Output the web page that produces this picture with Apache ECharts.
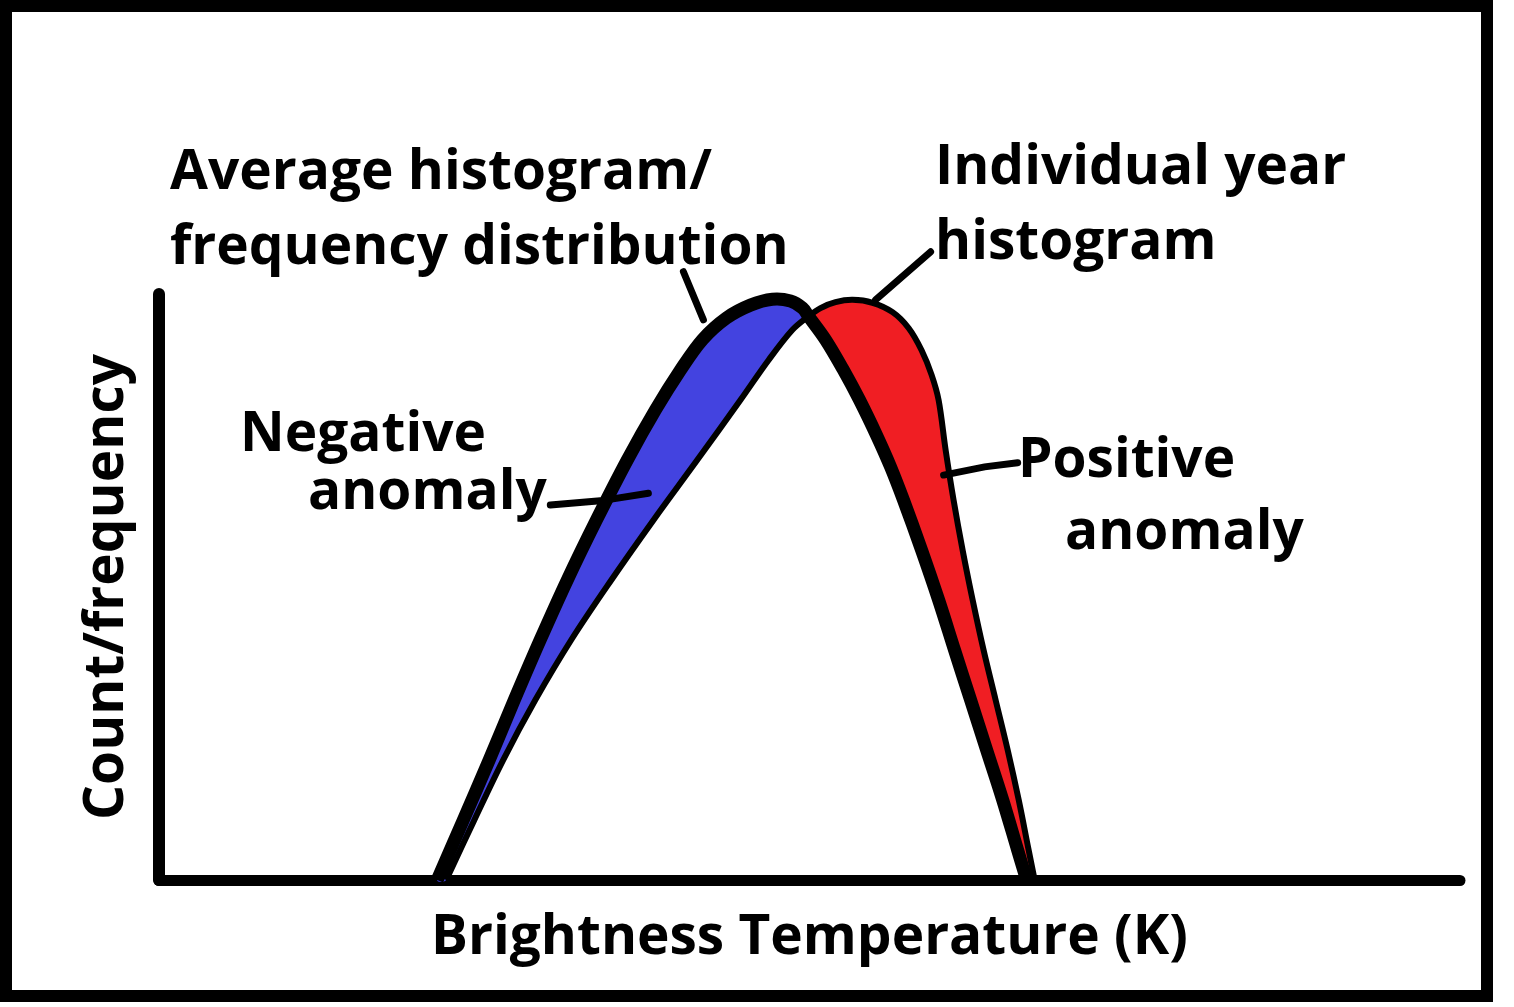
<!DOCTYPE html>
<html>
<head>
<meta charset="utf-8">
<script src="https://cdn.jsdelivr.net/npm/echarts@6/dist/echarts.min.js"></script>
<style>
  html, body { margin: 0; padding: 0; background: #fff; }
  #chart { width: 1514px; height: 1007px; }
</style>
</head>
<body>
<div id="chart"></div>
<script>
// average histogram (brightness temperature in arbitrary units, count 0-100)
const avgX = [27.8, 30.4, 33.0, 35.5, 38.1, 40.8, 43.7, 46.8, 49.6, 52.1, 54.3, 56.7, 59.1, 61.3, 63.1, 64.3, 64.9,
  66.6, 68.4, 70.0, 71.7, 73.1, 74.4, 76.2, 77.9, 79.5, 81.1, 82.7, 84.3, 85.8, 86.7]
const avgY = [0, 10.2, 20.5, 30.7, 41.0, 51.2, 61.4, 71.7, 80.2, 87.0, 92.2, 95.9, 98.1, 99.1, 98.8, 97.6, 96.2,
  92.2, 87.0, 81.9, 75.9, 70.5, 64.8, 56.3, 47.8, 39.2, 30.7, 22.2, 13.7, 5.1, 0]
const avgCross = 16

// individual year histogram
const indX = [28.7, 31.5, 34.4, 37.6, 41.2, 45.2, 49.4, 53.8, 58.1, 60.9, 63.3, 64.9,
  66.1, 67.6, 69.3, 71.3, 73.3, 74.9, 76.2, 77.2, 77.9, 78.6, 79.4, 80.3, 81.3, 82.4, 83.6, 84.8, 85.9, 86.9, 87.5]
const indY = [0, 10.2, 20.5, 30.7, 41.0, 51.2, 61.4, 71.7, 81.9, 88.7, 93.9, 96.2,
  97.6, 98.6, 99.0, 98.5, 96.9, 94.2, 90.4, 86.2, 81.9, 73.4, 64.8, 56.3, 47.8, 39.2, 30.7, 22.2, 13.7, 5.1, 0]
const indCross = 11

// annotation pointers [x, y] in the same units
const pointers = [
  [[52.4, 103.8], [54.4, 95.6]],
  [[77.1, 107.2], [71.6, 99.0]],
  [[39.1, 64.0], [44.1, 64.7], [48.9, 66.0]],
  [[78.4, 69.1], [82.5, 70.5], [85.8, 71.2]]
]

const labels = [
  {text: 'Average histogram/', x: 170, y: 173},
  {text: 'frequency distribution', x: 170, y: 248},
  {text: 'Individual year', x: 935, y: 168},
  {text: 'histogram', x: 935, y: 243},
  {text: 'Negative', x: 240, y: 435},
  {text: 'anomaly', x: 308, y: 493},
  {text: 'Positive', x: 1018, y: 461},
  {text: 'anomaly', x: 1065, y: 533}
]

const FONT_FAMILY = 'Open Sans'
const FONT = 'bold 55px "Open Sans"'
const SMOOTH = 0.35

const zip = (xs, ys) => xs.map((x, i) => [x, ys[i]])
const avgPts = zip(avgX, avgY)
const indPts = zip(indX, indY)
const bluePts = avgPts.slice(0, avgCross + 1).concat(indPts.slice(0, indCross).reverse())
const redPts = indPts.slice(indCross).concat(avgPts.slice(avgCross + 1, -1).reverse())

function renderAll (params, api) {
  const c = pts => pts.map(p => api.coord(p))
  const kids = [
    {type: 'polygon', shape: {points: c(bluePts), smooth: SMOOTH}, style: {fill: '#4343e0'}},
    {type: 'polygon', shape: {points: c(redPts), smooth: SMOOTH}, style: {fill: '#f01e23'}},
    {type: 'polyline', shape: {points: c(indPts), smooth: SMOOTH}, style: {stroke: '#000', lineWidth: 6, fill: null}},
    {type: 'polyline', shape: {points: c(avgPts), smooth: SMOOTH}, style: {stroke: '#000', lineWidth: 13, fill: null}}
  ]
  pointers.forEach(p => {
    kids.push({type: 'polyline', shape: {points: c(p)}, style: {stroke: '#000', lineWidth: 7, fill: null, lineCap: 'round'}})
  })
  return {type: 'group', children: kids}
}

const chart = echarts.init(document.getElementById('chart'))
chart.setOption({
  animation: false,
  backgroundColor: '#fff',
  grid: {left: 159, right: 54, top: 294, bottom: 127, containLabel: false},
  xAxis: {
    type: 'value', min: 0, max: 130,
    axisLine: {lineStyle: {color: '#000', width: 11}},
    axisTick: {show: false}, axisLabel: {show: false}, splitLine: {show: false},
    name: 'Brightness Temperature (K)', nameLocation: 'middle', nameGap: 31,
    nameTextStyle: {color: '#000', fontFamily: FONT_FAMILY, fontWeight: 'bold', fontSize: 55, verticalAlign: 'top'}
  },
  yAxis: {
    type: 'value', min: 0, max: 100,
    axisLine: {lineStyle: {color: '#000', width: 12}},
    axisTick: {show: false}, axisLabel: {show: false}, splitLine: {show: false},
    name: 'Count/frequency', nameLocation: 'middle', nameGap: 24, nameRotate: 90,
    nameTextStyle: {color: '#000', fontFamily: FONT_FAMILY, fontWeight: 'bold', fontSize: 55, verticalAlign: 'bottom'}
  },
  graphic: [
    {type: 'rect', shape: {x: 6, y: 6, width: 1481, height: 990}, style: {fill: null, stroke: '#000', lineWidth: 12}, silent: true}
  ].concat(labels.map(l => ({
    type: 'text', x: l.x, y: l.y,
    style: {text: l.text, font: FONT, fill: '#000', textAlign: 'left', textVerticalAlign: 'middle'}
  }))),
  series: [{
    type: 'custom',
    clip: false,
    data: [[0, 0]],
    renderItem: renderAll
  }]
})
</script>
</body>
</html>
